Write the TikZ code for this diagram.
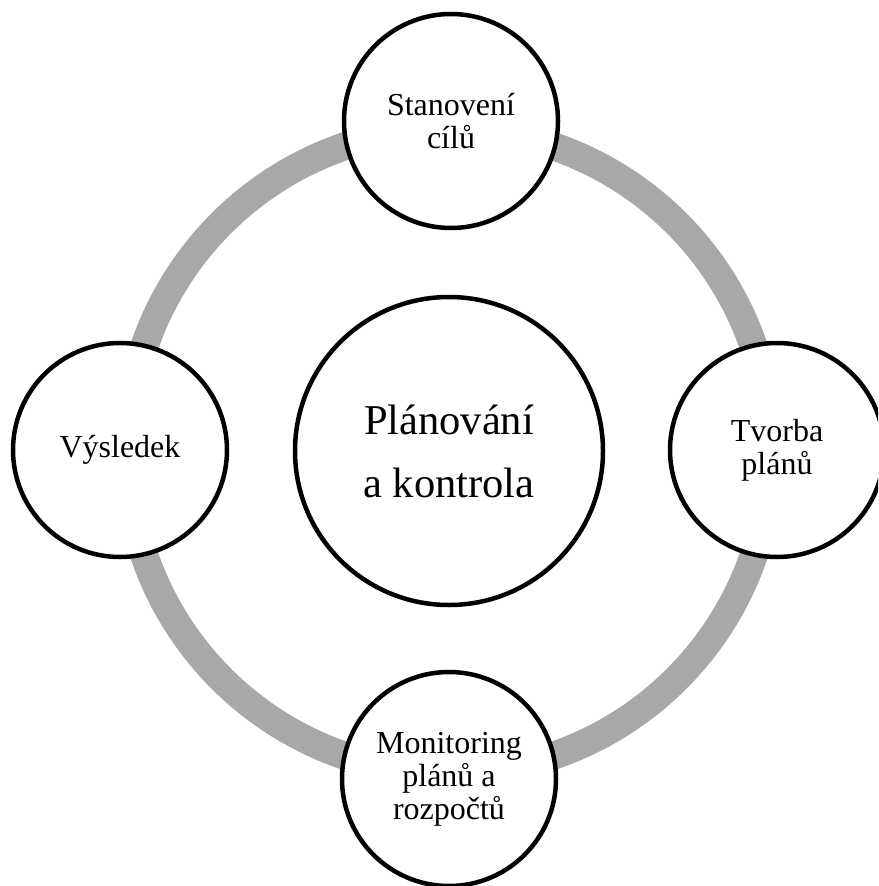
\documentclass[tikz,border=0pt]{standalone}
\usepackage{fontspec}
\setmainfont{Liberation Serif}
\definecolor{ringgray}{RGB}{168,168,168}
\tikzset{
  outer/.style={circle, draw=black, fill=white, line width=4.5pt, minimum size=214pt, inner sep=0pt, align=center, font=\fontsize{32}{33}\selectfont},
  core/.style={circle, draw=black, fill=white, line width=4.5pt, minimum size=308pt, inner sep=0pt, align=center, font=\fontsize{42.5}{63}\selectfont},
  ring/.style={draw=ringgray, line width=28pt}
}
\begin{document}
\begin{tikzpicture}[x=1pt,y=-1pt]
\useasboundingbox (0,0) rectangle (878,886);
\clip (0,0) rectangle (878,886);
\fill[white] (0,0) rectangle (878,886);
\coordinate (o) at (449,451);
\draw[ring] (o) circle[radius=322pt];
\node[core] (c) at (o) {Plánování\\a kontrola};
\node[outer] (top) at (451,121) {Stanovení\\cílů};
\node[outer] (right) at (777,450) {Tvorba\\plánů};
\node[outer] (bottom) at (449,779) {Monitoring\\plánů a\\rozpočtů};
\node[outer] (left) at (120,450) {Výsledek};
\end{tikzpicture}
\end{document}
